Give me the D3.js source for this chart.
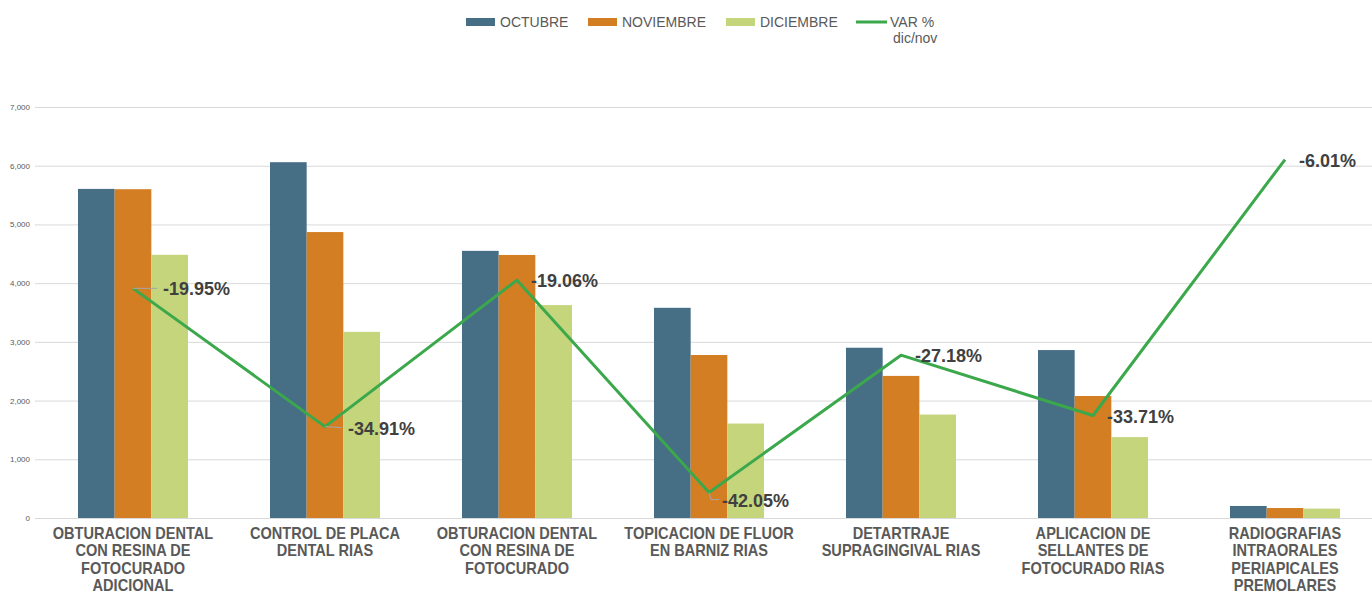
<!DOCTYPE html>
<html>
<head>
<meta charset="utf-8">
<script src="https://cdn.jsdelivr.net/npm/d3@7"></script>
<style>
  body { margin: 0; background: #fff; }
  svg { display: block; font-family: "Liberation Sans", Arial, sans-serif; }
  .grid line { stroke: #d9d9d9; stroke-width: 1; }
  .grid path { display: none; }
  .tick-lbl { fill: #595959; font-size: 8px; }
  .cat { fill: #595959; font-size: 16px; font-weight: bold; font-family: "Liberation Sans Narrow", "Arial Narrow", "Liberation Sans", sans-serif; }
  .legend { fill: #595959; font-size: 14px; }
  .pct { fill: #404040; font-size: 18px; font-weight: bold; }
</style>
</head>
<body>
<svg id="chart" width="1372" height="595"></svg>
<script>
const categories = [
  ['OBTURACION DENTAL', 'CON RESINA DE', 'FOTOCURADO', 'ADICIONAL'],
  ['CONTROL DE PLACA', 'DENTAL RIAS'],
  ['OBTURACION DENTAL', 'CON RESINA DE', 'FOTOCURADO'],
  ['TOPICACION DE FLUOR', 'EN BARNIZ RIAS'],
  ['DETARTRAJE', 'SUPRAGINGIVAL RIAS'],
  ['APLICACION DE', 'SELLANTES DE', 'FOTOCURADO RIAS'],
  ['RADIOGRAFIAS', 'INTRAORALES', 'PERIAPICALES', 'PREMOLARES']
];
const octubre   = [5605, 6060, 4550, 3580, 2900, 2860, 205];
const noviembre = [5600, 4870, 4480, 2776, 2420, 2078, 170];
const diciembre = [4483, 3170, 3626, 1609, 1762, 1378, 160];
const varPct    = [-19.95, -34.91, -19.06, -42.05, -27.18, -33.71, -6.01];
const yTicks    = [0, 1000, 2000, 3000, 4000, 5000, 6000, 7000];
const seriesNames = ['OCTUBRE', 'NOVIEMBRE', 'DICIEMBRE'];
const colors = ['#466f86', '#d47e24', '#c4d57b'];
const lineColor = '#3ba84b';

const svg = d3.select('#chart');
const plotLeft = 37, plotRight = 1381, plotTop = 107, plotBottom = 518;

const x = d3.scaleBand()
  .domain(d3.range(categories.length))
  .range([plotLeft, plotRight])
  .paddingInner(0.427)
  .paddingOuter(0.2135);

const xSub = d3.scaleBand()
  .domain(d3.range(seriesNames.length))
  .range([0, x.bandwidth()]);

const y = d3.scaleLinear().domain([0, 7000]).range([plotBottom, plotTop]);
const y2 = d3.scaleLinear().domain([-44.8, 0]).range([plotBottom, 104]);

// grid lines
svg.append('g')
  .attr('class', 'grid')
  .attr('transform', `translate(${plotLeft - 2},0)`)
  .call(d3.axisLeft(y).tickValues(yTicks).tickSize(-(1372 - plotLeft + 2)).tickFormat(''));

// tick labels
svg.append('g').selectAll('text')
  .data(yTicks)
  .join('text')
  .attr('class', 'tick-lbl')
  .attr('x', 30)
  .attr('y', d => y(d) + 3)
  .attr('text-anchor', 'end')
  .text(d => d3.format(',')(d));

// bars
const series = [octubre, noviembre, diciembre];
series.forEach((vals, s) => {
  svg.append('g').selectAll('rect')
    .data(vals)
    .join('rect')
    .attr('x', (d, i) => x(i) + xSub(s))
    .attr('y', d => y(d))
    .attr('width', xSub.bandwidth())
    .attr('height', d => plotBottom - y(d))
    .attr('fill', colors[s]);
});

// category labels (squeezed horizontally to mimic a narrow font)
const cat = svg.append('g').selectAll('text')
  .data(categories)
  .join('text')
  .attr('class', 'cat')
  .attr('text-anchor', 'middle')
  .attr('transform', (d, i) => `translate(${x(i) + x.bandwidth() / 2},539) scale(0.91,1)`);
cat.selectAll('tspan')
  .data(d => d)
  .join('tspan')
  .attr('x', 0)
  .attr('dy', (d, j) => j === 0 ? 0 : 17.3)
  .text(d => d);

// var % line
const cx = i => x(i) + x.bandwidth() / 2;
const line = d3.line()
  .x((d, i) => cx(i))
  .y(d => y2(d));

svg.append('path')
  .datum(varPct)
  .attr('d', line)
  .attr('fill', 'none')
  .attr('stroke', lineColor)
  .attr('stroke-width', 3)
  .attr('stroke-linejoin', 'round');

// data labels (some are pushed aside with a leader line)
const labelShift = { 0: [30, 1], 1: [23, 2], 3: [13, 8] };
varPct.forEach((v, i) => {
  const px = cx(i), py = y2(v);
  const sh = labelShift[i] || [14, 1];
  if (i === 0 || i === 1) {
    svg.append('line')
      .attr('x1', px).attr('y1', py)
      .attr('x2', px + sh[0] - 6).attr('y2', py + sh[1] - 1)
      .attr('stroke', '#a6a6a6').attr('stroke-width', 1);
  }
  if (i === 3) {
    svg.append('polyline')
      .attr('points', `${px},${py} ${px + 2},${py + 7} ${px + 10},${py + 7}`)
      .attr('fill', 'none')
      .attr('stroke', '#a6a6a6').attr('stroke-width', 1);
  }
  svg.append('text')
    .attr('class', 'pct')
    .attr('x', px + sh[0])
    .attr('y', py + sh[1] + 6)
    .text(v.toFixed(2) + '%');
});

// legend
const legX = [466, 588, 726];
seriesNames.forEach((n, s) => {
  svg.append('rect')
    .attr('x', legX[s]).attr('y', 18)
    .attr('width', 29).attr('height', 8)
    .attr('fill', colors[s]);
  svg.append('text')
    .attr('class', 'legend')
    .attr('x', legX[s] + 34).attr('y', 27)
    .text(n);
});
svg.append('line')
  .attr('x1', 856).attr('x2', 887)
  .attr('y1', 22).attr('y2', 22)
  .attr('stroke', lineColor).attr('stroke-width', 3);
svg.append('text')
  .attr('class', 'legend')
  .attr('x', 890).attr('y', 27)
  .text('VAR %');
svg.append('text')
  .attr('class', 'legend')
  .attr('x', 893).attr('y', 43)
  .text('dic/nov');
</script>
</body>
</html>
